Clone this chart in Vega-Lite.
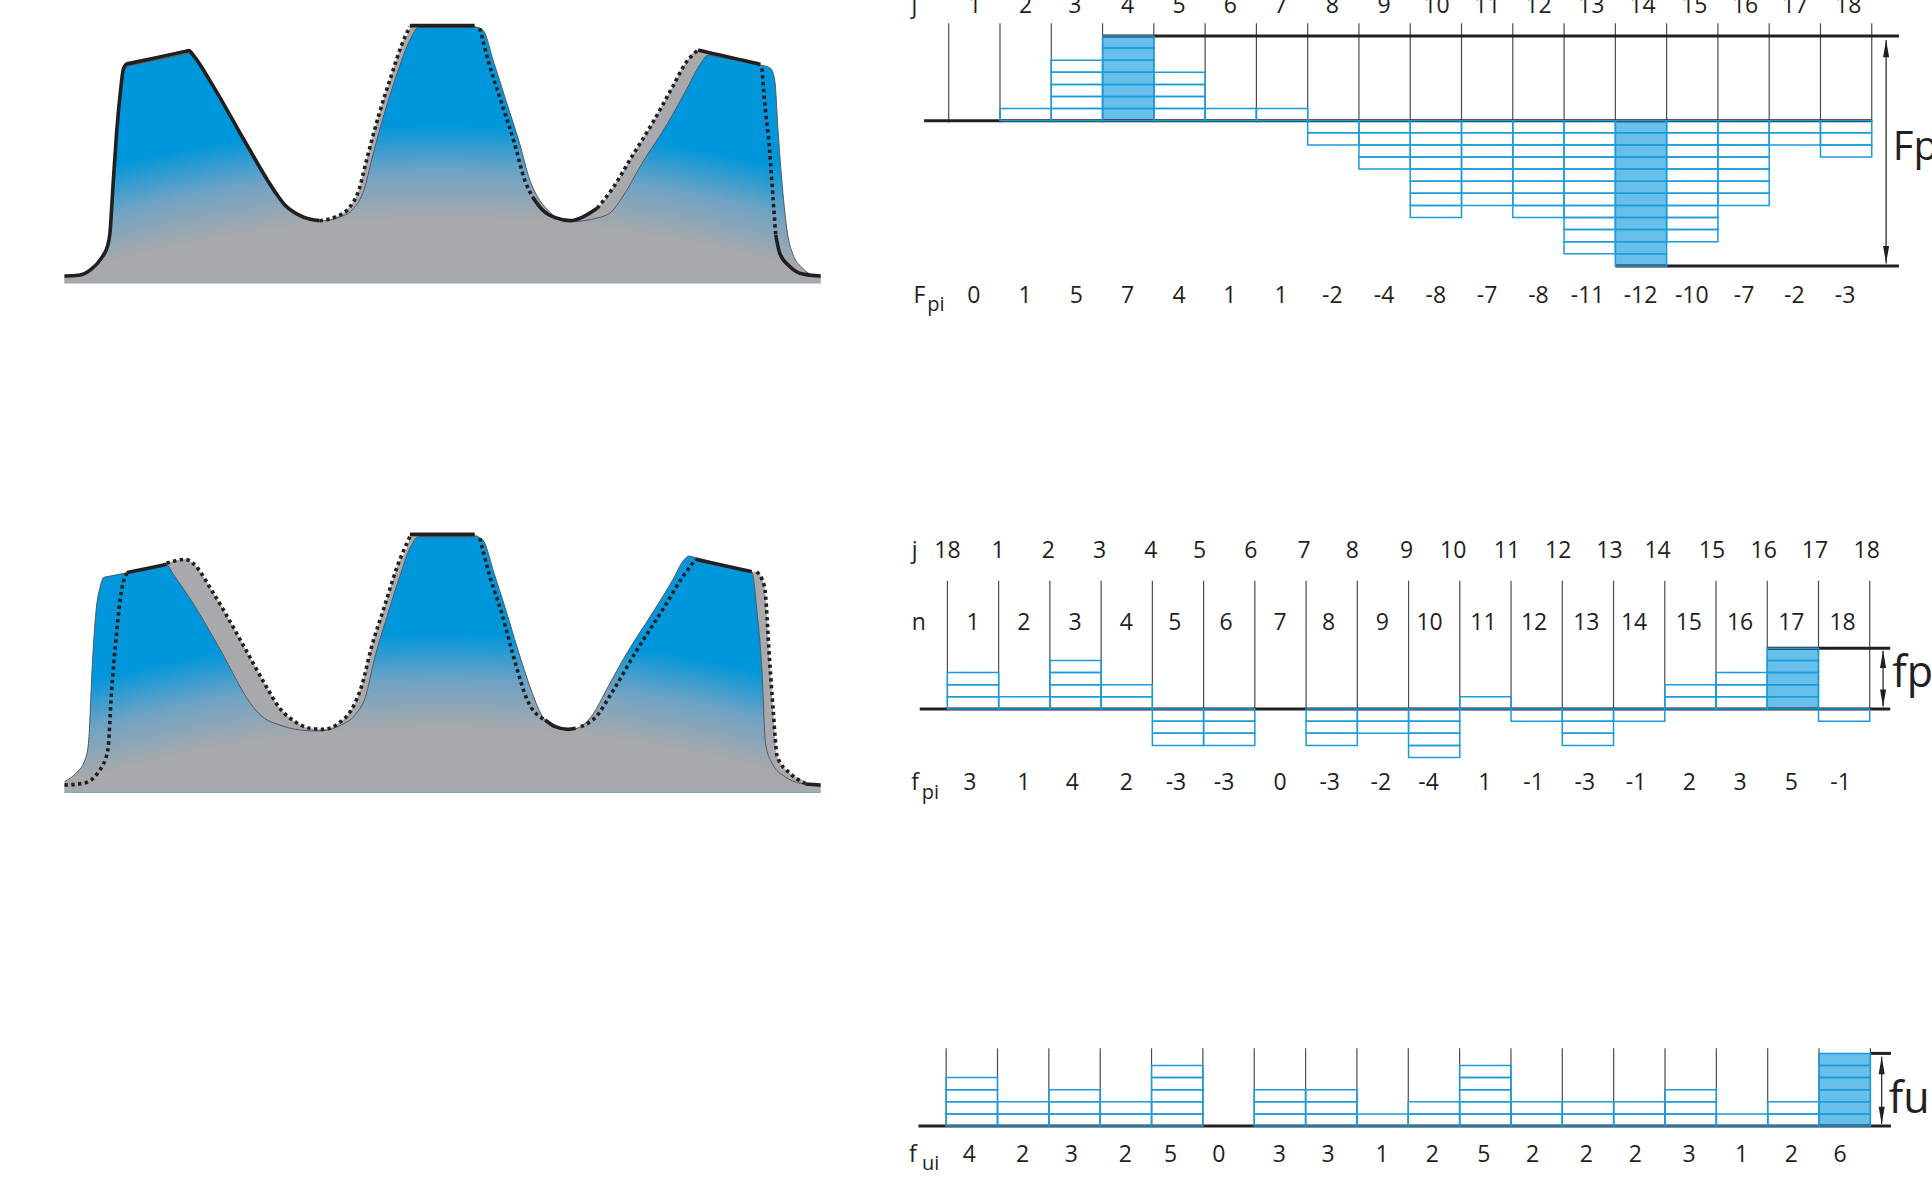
{"$schema":"https://vega.github.io/schema/vega-lite/v6.json","padding":0,"spacing":0,"background":"white",
"config":{"view":{"stroke":null},"concat":{"spacing":0},"text":{"font":"Open Sans","color":"#231f20"}},
"datasets":{
"gear1_actual":[{"x":48,"h":22},{"x":75,"h":24},{"x":100,"h":42},{"x":120,"h":75},{"x":133,"h":115},{"x":137,"h":150},{"x":143,"h":290},{"x":150,"h":450},{"x":158,"h":580},{"x":163,"h":635},{"x":170,"h":652},{"x":178,"h":654.5},{"x":284,"h":687.5},{"x":292,"h":690},{"x":300,"h":680},{"x":340,"h":585},{"x":400,"h":425},{"x":465,"h":260},{"x":480,"h":232},{"x":505,"h":205},{"x":530,"h":192},{"x":548,"h":187},{"x":590,"h":200},{"x":615,"h":225},{"x":635,"h":280},{"x":650,"h":370},{"x":675,"h":510},{"x":700,"h":630},{"x":725,"h":730},{"x":742,"h":768},{"x":855,"h":768},{"x":868,"h":760},{"x":890,"h":660},{"x":915,"h":540},{"x":940,"h":420},{"x":960,"h":310},{"x":975,"h":260},{"x":995,"h":220},{"x":1015,"h":195},{"x":1040,"h":185},{"x":1090,"h":195},{"x":1120,"h":215},{"x":1140,"h":255},{"x":1180,"h":360},{"x":1230,"h":480},{"x":1270,"h":590},{"x":1295,"h":660},{"x":1310,"h":685},{"x":1318,"h":683},{"x":1404,"h":657},{"x":1412,"h":655},{"x":1432,"h":645},{"x":1440,"h":610},{"x":1447,"h":450},{"x":1455,"h":290},{"x":1465,"h":150},{"x":1475,"h":90},{"x":1495,"h":45},{"x":1510,"h":28},{"x":1530,"h":22}],
"gear1_ref":[{"x":48,"h":22,"seg":"A","kind":"solid"},{"x":75,"h":24,"seg":"A","kind":"solid"},{"x":100,"h":42,"seg":"A","kind":"solid"},{"x":120,"h":75,"seg":"A","kind":"solid"},{"x":133,"h":115,"seg":"A","kind":"solid"},{"x":137,"h":150,"seg":"A","kind":"solid"},{"x":143,"h":290,"seg":"A","kind":"solid"},{"x":150,"h":450,"seg":"A","kind":"solid"},{"x":158,"h":580,"seg":"A","kind":"solid"},{"x":163,"h":640,"seg":"A","kind":"solid"},{"x":170,"h":658,"seg":"A","kind":"solid"},{"x":178,"h":660.6,"seg":"A","kind":"solid"},{"x":284,"h":695.4,"seg":"A","kind":"solid"},{"x":292,"h":698,"seg":"A","kind":"solid"},{"x":300,"h":685,"seg":"A","kind":"solid"},{"x":340,"h":590,"seg":"A","kind":"solid"},{"x":400,"h":430,"seg":"A","kind":"solid"},{"x":465,"h":265,"seg":"A","kind":"solid"},{"x":480,"h":235,"seg":"A","kind":"solid"},{"x":505,"h":207,"seg":"A","kind":"solid"},{"x":530,"h":192,"seg":"A","kind":"solid"},{"x":548,"h":188,"seg":"A","kind":"solid"},
{"x":548,"h":188,"seg":"B","kind":"dot"},{"x":580,"h":200,"seg":"B","kind":"dot"},{"x":605,"h":225,"seg":"B","kind":"dot"},{"x":625,"h":280,"seg":"B","kind":"dot"},{"x":640,"h":370,"seg":"B","kind":"dot"},{"x":665,"h":510,"seg":"B","kind":"dot"},{"x":690,"h":630,"seg":"B","kind":"dot"},{"x":710,"h":720,"seg":"B","kind":"dot"},{"x":725,"h":770,"seg":"B","kind":"dot"},
{"x":725,"h":773,"seg":"C","kind":"solid"},{"x":852,"h":773,"seg":"C","kind":"solid"},
{"x":862,"h":765,"seg":"D","kind":"dot"},{"x":880,"h":660,"seg":"D","kind":"dot"},{"x":905,"h":540,"seg":"D","kind":"dot"},{"x":930,"h":420,"seg":"D","kind":"dot"},{"x":950,"h":310,"seg":"D","kind":"dot"},{"x":965,"h":260,"seg":"D","kind":"dot"},
{"x":965,"h":260,"seg":"E","kind":"solid"},{"x":985,"h":220,"seg":"E","kind":"solid"},{"x":1010,"h":197,"seg":"E","kind":"solid"},{"x":1040,"h":188,"seg":"E","kind":"solid"},{"x":1065,"h":200,"seg":"E","kind":"solid"},{"x":1092,"h":225,"seg":"E","kind":"solid"},
{"x":1092,"h":225,"seg":"F","kind":"dot"},{"x":1120,"h":280,"seg":"F","kind":"dot"},{"x":1160,"h":380,"seg":"F","kind":"dot"},{"x":1200,"h":480,"seg":"F","kind":"dot"},{"x":1240,"h":590,"seg":"F","kind":"dot"},{"x":1265,"h":660,"seg":"F","kind":"dot"},{"x":1290,"h":700,"seg":"F","kind":"dot"},
{"x":1290,"h":700,"seg":"G","kind":"solid"},{"x":1298,"h":697,"seg":"G","kind":"solid"},{"x":1404,"h":660,"seg":"G","kind":"solid"},{"x":1412,"h":657,"seg":"G","kind":"solid"},
{"x":1415,"h":645,"seg":"H","kind":"dot"},{"x":1420,"h":550,"seg":"H","kind":"dot"},{"x":1430,"h":400,"seg":"H","kind":"dot"},{"x":1437,"h":250,"seg":"H","kind":"dot"},{"x":1442,"h":145,"seg":"H","kind":"dot"},
{"x":1442,"h":145,"seg":"I","kind":"solid"},{"x":1450,"h":90,"seg":"I","kind":"solid"},{"x":1470,"h":50,"seg":"I","kind":"solid"},{"x":1495,"h":28,"seg":"I","kind":"solid"},{"x":1530,"h":22,"seg":"I","kind":"solid"}],
"gear2_actual":[{"x":48,"h":33},{"x":70,"h":58},{"x":88,"h":98},{"x":95,"h":148},{"x":103,"h":398},{"x":110,"h":548},{"x":118,"h":618},{"x":125,"h":646},{"x":133,"h":648.4},{"x":240,"h":680.6},{"x":248,"h":683},{"x":262,"h":653},{"x":300,"h":568},{"x":350,"h":438},{"x":420,"h":253},{"x":440,"h":223},{"x":470,"h":203},{"x":510,"h":188},{"x":545,"h":185},{"x":590,"h":203},{"x":620,"h":238},{"x":638,"h":288},{"x":655,"h":398},{"x":680,"h":528},{"x":705,"h":648},{"x":725,"h":733},{"x":742,"h":768},{"x":855,"h":768},{"x":868,"h":758},{"x":890,"h":658},{"x":915,"h":538},{"x":945,"h":388},{"x":965,"h":298},{"x":985,"h":228},{"x":1005,"h":203},{"x":1035,"h":188},{"x":1060,"h":198},{"x":1085,"h":238},{"x":1110,"h":308},{"x":1150,"h":418},{"x":1200,"h":538},{"x":1240,"h":638},{"x":1262,"h":698},{"x":1272,"h":710},{"x":1280,"h":707},{"x":1387,"h":666},{"x":1395,"h":663},{"x":1405,"h":548},{"x":1415,"h":368},{"x":1422,"h":148},{"x":1435,"h":88},{"x":1460,"h":48},{"x":1490,"h":28},{"x":1530,"h":20}],
"gear2_ref":[{"x":48,"h":23,"seg":"a","kind":"dot"},{"x":85,"h":28,"seg":"a","kind":"dot"},{"x":115,"h":63,"seg":"a","kind":"dot"},{"x":133,"h":128,"seg":"a","kind":"dot"},{"x":140,"h":298,"seg":"a","kind":"dot"},{"x":150,"h":478,"seg":"a","kind":"dot"},{"x":160,"h":608,"seg":"a","kind":"dot"},{"x":170,"h":658,"seg":"a","kind":"dot"},
{"x":170,"h":660,"seg":"b","kind":"solid"},{"x":178,"h":662.6,"seg":"b","kind":"solid"},{"x":240,"h":682.4,"seg":"b","kind":"solid"},{"x":248,"h":685,"seg":"b","kind":"solid"},
{"x":248,"h":688,"seg":"c","kind":"dot"},{"x":285,"h":700,"seg":"c","kind":"dot"},{"x":300,"h":688,"seg":"c","kind":"dot"},{"x":340,"h":598,"seg":"c","kind":"dot"},{"x":400,"h":438,"seg":"c","kind":"dot"},{"x":440,"h":328,"seg":"c","kind":"dot"},{"x":470,"h":253,"seg":"c","kind":"dot"},{"x":500,"h":213,"seg":"c","kind":"dot"},{"x":530,"h":193,"seg":"c","kind":"dot"},{"x":555,"h":190,"seg":"c","kind":"dot"},{"x":585,"h":208,"seg":"c","kind":"dot"},{"x":610,"h":248,"seg":"c","kind":"dot"},{"x":630,"h":318,"seg":"c","kind":"dot"},{"x":650,"h":438,"seg":"c","kind":"dot"},{"x":675,"h":558,"seg":"c","kind":"dot"},{"x":700,"h":678,"seg":"c","kind":"dot"},{"x":725,"h":768,"seg":"c","kind":"dot"},
{"x":725,"h":775,"seg":"d","kind":"solid"},{"x":852,"h":775,"seg":"d","kind":"solid"},
{"x":862,"h":763,"seg":"e","kind":"dot"},{"x":880,"h":658,"seg":"e","kind":"dot"},{"x":905,"h":538,"seg":"e","kind":"dot"},{"x":930,"h":398,"seg":"e","kind":"dot"},{"x":955,"h":278,"seg":"e","kind":"dot"},{"x":990,"h":218,"seg":"e","kind":"dot"},
{"x":990,"h":218,"seg":"f","kind":"solid"},{"x":1010,"h":198,"seg":"f","kind":"solid"},{"x":1035,"h":190,"seg":"f","kind":"solid"},{"x":1050,"h":193,"seg":"f","kind":"solid"},
{"x":1060,"h":198,"seg":"g","kind":"dot"},{"x":1090,"h":228,"seg":"g","kind":"dot"},{"x":1120,"h":298,"seg":"g","kind":"dot"},{"x":1170,"h":428,"seg":"g","kind":"dot"},{"x":1220,"h":548,"seg":"g","kind":"dot"},{"x":1260,"h":648,"seg":"g","kind":"dot"},{"x":1285,"h":700,"seg":"g","kind":"dot"},
{"x":1285,"h":700,"seg":"h","kind":"solid"},{"x":1293,"h":697.3,"seg":"h","kind":"solid"},{"x":1387,"h":665.7,"seg":"h","kind":"solid"},{"x":1395,"h":663,"seg":"h","kind":"solid"},
{"x":1405,"h":663,"seg":"i","kind":"dot"},{"x":1420,"h":618,"seg":"i","kind":"dot"},{"x":1430,"h":398,"seg":"i","kind":"dot"},{"x":1437,"h":248,"seg":"i","kind":"dot"},{"x":1445,"h":108,"seg":"i","kind":"dot"},{"x":1470,"h":58,"seg":"i","kind":"dot"},{"x":1500,"h":28,"seg":"i","kind":"dot"},
{"x":1500,"h":26,"seg":"j","kind":"solid"},{"x":1530,"h":23,"seg":"j","kind":"solid"}],
"top_cells":[{"x":1,"x2":2,"y":0,"y2":1},{"x":2,"x2":3,"y":0,"y2":1},{"x":2,"x2":3,"y":1,"y2":2},{"x":2,"x2":3,"y":2,"y2":3},{"x":2,"x2":3,"y":3,"y2":4},{"x":2,"x2":3,"y":4,"y2":5},{"x":3,"x2":4,"y":0,"y2":1},{"x":3,"x2":4,"y":1,"y2":2},{"x":3,"x2":4,"y":2,"y2":3},{"x":3,"x2":4,"y":3,"y2":4},{"x":3,"x2":4,"y":4,"y2":5},{"x":3,"x2":4,"y":5,"y2":6},{"x":3,"x2":4,"y":6,"y2":7},{"x":4,"x2":5,"y":0,"y2":1},{"x":4,"x2":5,"y":1,"y2":2},{"x":4,"x2":5,"y":2,"y2":3},{"x":4,"x2":5,"y":3,"y2":4},{"x":5,"x2":6,"y":0,"y2":1},{"x":6,"x2":7,"y":0,"y2":1},
{"x":7,"x2":8,"y":0,"y2":-1},{"x":7,"x2":8,"y":-1,"y2":-2},
{"x":8,"x2":9,"y":0,"y2":-1},{"x":8,"x2":9,"y":-1,"y2":-2},{"x":8,"x2":9,"y":-2,"y2":-3},{"x":8,"x2":9,"y":-3,"y2":-4},
{"x":9,"x2":10,"y":0,"y2":-1},{"x":9,"x2":10,"y":-1,"y2":-2},{"x":9,"x2":10,"y":-2,"y2":-3},{"x":9,"x2":10,"y":-3,"y2":-4},{"x":9,"x2":10,"y":-4,"y2":-5},{"x":9,"x2":10,"y":-5,"y2":-6},{"x":9,"x2":10,"y":-6,"y2":-7},{"x":9,"x2":10,"y":-7,"y2":-8},
{"x":10,"x2":11,"y":0,"y2":-1},{"x":10,"x2":11,"y":-1,"y2":-2},{"x":10,"x2":11,"y":-2,"y2":-3},{"x":10,"x2":11,"y":-3,"y2":-4},{"x":10,"x2":11,"y":-4,"y2":-5},{"x":10,"x2":11,"y":-5,"y2":-6},{"x":10,"x2":11,"y":-6,"y2":-7},
{"x":11,"x2":12,"y":0,"y2":-1},{"x":11,"x2":12,"y":-1,"y2":-2},{"x":11,"x2":12,"y":-2,"y2":-3},{"x":11,"x2":12,"y":-3,"y2":-4},{"x":11,"x2":12,"y":-4,"y2":-5},{"x":11,"x2":12,"y":-5,"y2":-6},{"x":11,"x2":12,"y":-6,"y2":-7},{"x":11,"x2":12,"y":-7,"y2":-8},
{"x":12,"x2":13,"y":0,"y2":-1},{"x":12,"x2":13,"y":-1,"y2":-2},{"x":12,"x2":13,"y":-2,"y2":-3},{"x":12,"x2":13,"y":-3,"y2":-4},{"x":12,"x2":13,"y":-4,"y2":-5},{"x":12,"x2":13,"y":-5,"y2":-6},{"x":12,"x2":13,"y":-6,"y2":-7},{"x":12,"x2":13,"y":-7,"y2":-8},{"x":12,"x2":13,"y":-8,"y2":-9},{"x":12,"x2":13,"y":-9,"y2":-10},{"x":12,"x2":13,"y":-10,"y2":-11},
{"x":13,"x2":14,"y":0,"y2":-1},{"x":13,"x2":14,"y":-1,"y2":-2},{"x":13,"x2":14,"y":-2,"y2":-3},{"x":13,"x2":14,"y":-3,"y2":-4},{"x":13,"x2":14,"y":-4,"y2":-5},{"x":13,"x2":14,"y":-5,"y2":-6},{"x":13,"x2":14,"y":-6,"y2":-7},{"x":13,"x2":14,"y":-7,"y2":-8},{"x":13,"x2":14,"y":-8,"y2":-9},{"x":13,"x2":14,"y":-9,"y2":-10},{"x":13,"x2":14,"y":-10,"y2":-11},{"x":13,"x2":14,"y":-11,"y2":-12},
{"x":14,"x2":15,"y":0,"y2":-1},{"x":14,"x2":15,"y":-1,"y2":-2},{"x":14,"x2":15,"y":-2,"y2":-3},{"x":14,"x2":15,"y":-3,"y2":-4},{"x":14,"x2":15,"y":-4,"y2":-5},{"x":14,"x2":15,"y":-5,"y2":-6},{"x":14,"x2":15,"y":-6,"y2":-7},{"x":14,"x2":15,"y":-7,"y2":-8},{"x":14,"x2":15,"y":-8,"y2":-9},{"x":14,"x2":15,"y":-9,"y2":-10},
{"x":15,"x2":16,"y":0,"y2":-1},{"x":15,"x2":16,"y":-1,"y2":-2},{"x":15,"x2":16,"y":-2,"y2":-3},{"x":15,"x2":16,"y":-3,"y2":-4},{"x":15,"x2":16,"y":-4,"y2":-5},{"x":15,"x2":16,"y":-5,"y2":-6},{"x":15,"x2":16,"y":-6,"y2":-7},
{"x":16,"x2":17,"y":0,"y2":-1},{"x":16,"x2":17,"y":-1,"y2":-2},
{"x":17,"x2":18,"y":0,"y2":-1},{"x":17,"x2":18,"y":-1,"y2":-2},{"x":17,"x2":18,"y":-2,"y2":-3}],
"mid_cells":[{"x":0,"x2":1,"y":0,"y2":1},{"x":0,"x2":1,"y":1,"y2":2},{"x":0,"x2":1,"y":2,"y2":3},{"x":1,"x2":2,"y":0,"y2":1},{"x":2,"x2":3,"y":0,"y2":1},{"x":2,"x2":3,"y":1,"y2":2},{"x":2,"x2":3,"y":2,"y2":3},{"x":2,"x2":3,"y":3,"y2":4},{"x":3,"x2":4,"y":0,"y2":1},{"x":3,"x2":4,"y":1,"y2":2},
{"x":4,"x2":5,"y":0,"y2":-1},{"x":4,"x2":5,"y":-1,"y2":-2},{"x":4,"x2":5,"y":-2,"y2":-3},{"x":5,"x2":6,"y":0,"y2":-1},{"x":5,"x2":6,"y":-1,"y2":-2},{"x":5,"x2":6,"y":-2,"y2":-3},
{"x":7,"x2":8,"y":0,"y2":-1},{"x":7,"x2":8,"y":-1,"y2":-2},{"x":7,"x2":8,"y":-2,"y2":-3},{"x":8,"x2":9,"y":0,"y2":-1},{"x":8,"x2":9,"y":-1,"y2":-2},{"x":9,"x2":10,"y":0,"y2":-1},{"x":9,"x2":10,"y":-1,"y2":-2},{"x":9,"x2":10,"y":-2,"y2":-3},{"x":9,"x2":10,"y":-3,"y2":-4},
{"x":10,"x2":11,"y":0,"y2":1},{"x":11,"x2":12,"y":0,"y2":-1},{"x":12,"x2":13,"y":0,"y2":-1},{"x":12,"x2":13,"y":-1,"y2":-2},{"x":12,"x2":13,"y":-2,"y2":-3},{"x":13,"x2":14,"y":0,"y2":-1},
{"x":14,"x2":15,"y":0,"y2":1},{"x":14,"x2":15,"y":1,"y2":2},{"x":15,"x2":16,"y":0,"y2":1},{"x":15,"x2":16,"y":1,"y2":2},{"x":15,"x2":16,"y":2,"y2":3},{"x":16,"x2":17,"y":0,"y2":1},{"x":16,"x2":17,"y":1,"y2":2},{"x":16,"x2":17,"y":2,"y2":3},{"x":16,"x2":17,"y":3,"y2":4},{"x":16,"x2":17,"y":4,"y2":5},{"x":17,"x2":18,"y":0,"y2":-1}],
"bot_cells":[{"x":0,"x2":1,"y":0,"y2":1},{"x":0,"x2":1,"y":1,"y2":2},{"x":0,"x2":1,"y":2,"y2":3},{"x":0,"x2":1,"y":3,"y2":4},{"x":1,"x2":2,"y":0,"y2":1},{"x":1,"x2":2,"y":1,"y2":2},{"x":2,"x2":3,"y":0,"y2":1},{"x":2,"x2":3,"y":1,"y2":2},{"x":2,"x2":3,"y":2,"y2":3},{"x":3,"x2":4,"y":0,"y2":1},{"x":3,"x2":4,"y":1,"y2":2},{"x":4,"x2":5,"y":0,"y2":1},{"x":4,"x2":5,"y":1,"y2":2},{"x":4,"x2":5,"y":2,"y2":3},{"x":4,"x2":5,"y":3,"y2":4},{"x":4,"x2":5,"y":4,"y2":5},
{"x":6,"x2":7,"y":0,"y2":1},{"x":6,"x2":7,"y":1,"y2":2},{"x":6,"x2":7,"y":2,"y2":3},{"x":7,"x2":8,"y":0,"y2":1},{"x":7,"x2":8,"y":1,"y2":2},{"x":7,"x2":8,"y":2,"y2":3},{"x":8,"x2":9,"y":0,"y2":1},{"x":9,"x2":10,"y":0,"y2":1},{"x":9,"x2":10,"y":1,"y2":2},{"x":10,"x2":11,"y":0,"y2":1},{"x":10,"x2":11,"y":1,"y2":2},{"x":10,"x2":11,"y":2,"y2":3},{"x":10,"x2":11,"y":3,"y2":4},{"x":10,"x2":11,"y":4,"y2":5},{"x":11,"x2":12,"y":0,"y2":1},{"x":11,"x2":12,"y":1,"y2":2},{"x":12,"x2":13,"y":0,"y2":1},{"x":12,"x2":13,"y":1,"y2":2},{"x":13,"x2":14,"y":0,"y2":1},{"x":13,"x2":14,"y":1,"y2":2},{"x":14,"x2":15,"y":0,"y2":1},{"x":14,"x2":15,"y":1,"y2":2},{"x":14,"x2":15,"y":2,"y2":3},{"x":15,"x2":16,"y":0,"y2":1},{"x":16,"x2":17,"y":0,"y2":1},{"x":16,"x2":17,"y":1,"y2":2},{"x":17,"x2":18,"y":0,"y2":1},{"x":17,"x2":18,"y":1,"y2":2},{"x":17,"x2":18,"y":2,"y2":3},{"x":17,"x2":18,"y":3,"y2":4},{"x":17,"x2":18,"y":4,"y2":5},{"x":17,"x2":18,"y":5,"y2":6}],
"top_ticks":[{"x":0,"y":8.05,"y2":-0.15},{"x":1,"y":8.05,"y2":-0.15},{"x":2,"y":8.05,"y2":-0.15},{"x":3,"y":8.05,"y2":-0.15},{"x":4,"y":8.05,"y2":-0.15},{"x":5,"y":8.05,"y2":-0.15},{"x":6,"y":8.05,"y2":-0.15},{"x":7,"y":8.05,"y2":-0.15},{"x":8,"y":8.05,"y2":-0.15},{"x":9,"y":8.05,"y2":-0.15},{"x":10,"y":8.05,"y2":-0.15},{"x":11,"y":8.05,"y2":-0.15},{"x":12,"y":8.05,"y2":-0.15},{"x":13,"y":8.05,"y2":-0.15},{"x":14,"y":8.05,"y2":-0.15},{"x":15,"y":8.05,"y2":-0.15},{"x":16,"y":8.05,"y2":-0.15},{"x":17,"y":8.05,"y2":-0.15},{"x":18,"y":8.05,"y2":-0.15}],
"mid_ticks":[{"x":0,"y":10.58,"y2":0},{"x":1,"y":10.58,"y2":0},{"x":2,"y":10.58,"y2":0},{"x":3,"y":10.58,"y2":0},{"x":4,"y":10.58,"y2":0},{"x":5,"y":10.58,"y2":0},{"x":6,"y":10.58,"y2":0},{"x":7,"y":10.58,"y2":0},{"x":8,"y":10.58,"y2":0},{"x":9,"y":10.58,"y2":0},{"x":10,"y":10.58,"y2":0},{"x":11,"y":10.58,"y2":0},{"x":12,"y":10.58,"y2":0},{"x":13,"y":10.58,"y2":0},{"x":14,"y":10.58,"y2":0},{"x":15,"y":10.58,"y2":0},{"x":16,"y":10.58,"y2":0},{"x":17,"y":10.58,"y2":0},{"x":18,"y":10.58,"y2":0}],
"bot_ticks":[{"x":0,"y":6.42,"y2":0},{"x":1,"y":6.42,"y2":0},{"x":2,"y":6.42,"y2":0},{"x":3,"y":6.42,"y2":0},{"x":4,"y":6.42,"y2":0},{"x":5,"y":6.42,"y2":0},{"x":6,"y":6.42,"y2":0},{"x":7,"y":6.42,"y2":0},{"x":8,"y":6.42,"y2":0},{"x":9,"y":6.42,"y2":0},{"x":10,"y":6.42,"y2":0},{"x":11,"y":6.42,"y2":0},{"x":12,"y":6.42,"y2":0},{"x":13,"y":6.42,"y2":0},{"x":14,"y":6.42,"y2":0},{"x":15,"y":6.42,"y2":0},{"x":16,"y":6.42,"y2":0},{"x":17,"y":6.42,"y2":0},{"x":18,"y":6.42,"y2":0}],
"top_labels":[{"t":"j","x":-0.67,"y":9.5},{"t":"1","x":0.51,"y":9.5},{"t":"2","x":1.5,"y":9.5},{"t":"3","x":2.46,"y":9.5},{"t":"4","x":3.49,"y":9.5},{"t":"5","x":4.49,"y":9.5},{"t":"6","x":5.49,"y":9.5},{"t":"7","x":6.47,"y":9.5},{"t":"8","x":7.48,"y":9.5},{"t":"9","x":8.49,"y":9.5},{"t":"10","x":9.51,"y":9.5},{"t":"11","x":10.5,"y":9.5},{"t":"12","x":11.5,"y":9.5},{"t":"13","x":12.53,"y":9.5},{"t":"14","x":13.53,"y":9.5},{"t":"15","x":14.54,"y":9.5},{"t":"16","x":15.53,"y":9.5},{"t":"17","x":16.5,"y":9.5},{"t":"18","x":17.54,"y":9.5},
{"t":"F","x":-0.57,"y":-14.5},{"t":"0","x":0.49,"y":-14.5},{"t":"1","x":1.49,"y":-14.5},{"t":"5","x":2.49,"y":-14.5},{"t":"7","x":3.49,"y":-14.5},{"t":"4","x":4.49,"y":-14.5},{"t":"1","x":5.48,"y":-14.5},{"t":"1","x":6.48,"y":-14.5},{"t":"-2","x":7.48,"y":-14.5},{"t":"-4","x":8.49,"y":-14.5},{"t":"-8","x":9.5,"y":-14.5},{"t":"-7","x":10.5,"y":-14.5},{"t":"-8","x":11.5,"y":-14.5},{"t":"-11","x":12.46,"y":-14.5},{"t":"-12","x":13.49,"y":-14.5},{"t":"-10","x":14.49,"y":-14.5},{"t":"-7","x":15.51,"y":-14.5},{"t":"-2","x":16.49,"y":-14.5},{"t":"-3","x":17.48,"y":-14.5}],
"mid_labels":[{"t":"j","x":-0.64,"y":13.0},{"t":"18","x":0,"y":13.0},{"t":"1","x":0.99,"y":13.0},{"t":"2","x":1.97,"y":13.0},{"t":"3","x":2.97,"y":13.0},{"t":"4","x":3.97,"y":13.0},{"t":"5","x":4.92,"y":13.0},{"t":"6","x":5.92,"y":13.0},{"t":"7","x":6.96,"y":13.0},{"t":"8","x":7.9,"y":13.0},{"t":"9","x":8.96,"y":13.0},{"t":"10","x":9.87,"y":13.0},{"t":"11","x":10.92,"y":13.0},{"t":"12","x":11.92,"y":13.0},{"t":"13","x":12.92,"y":13.0},{"t":"14","x":13.86,"y":13.0},{"t":"15","x":14.92,"y":13.0},{"t":"16","x":15.93,"y":13.0},{"t":"17","x":16.93,"y":13.0},{"t":"18","x":17.94,"y":13.0},
{"t":"n","x":-0.56,"y":7.1},{"t":"1","x":0.5,"y":7.1},{"t":"2","x":1.49,"y":7.1},{"t":"3","x":2.49,"y":7.1},{"t":"4","x":3.49,"y":7.1},{"t":"5","x":4.44,"y":7.1},{"t":"6","x":5.44,"y":7.1},{"t":"7","x":6.49,"y":7.1},{"t":"8","x":7.44,"y":7.1},{"t":"9","x":8.49,"y":7.1},{"t":"10","x":9.41,"y":7.1},{"t":"11","x":10.46,"y":7.1},{"t":"12","x":11.45,"y":7.1},{"t":"13","x":12.47,"y":7.1},{"t":"14","x":13.4,"y":7.1},{"t":"15","x":14.47,"y":7.1},{"t":"16","x":15.47,"y":7.1},{"t":"17","x":16.47,"y":7.1},{"t":"18","x":17.47,"y":7.1},
{"t":"f","x":-0.63,"y":-6.14},{"t":"3","x":0.44,"y":-6.14},{"t":"1","x":1.49,"y":-6.14},{"t":"4","x":2.44,"y":-6.14},{"t":"2","x":3.49,"y":-6.14},{"t":"-3","x":4.46,"y":-6.14},{"t":"-3","x":5.4,"y":-6.14},{"t":"0","x":6.49,"y":-6.14},{"t":"-3","x":7.46,"y":-6.14},{"t":"-2","x":8.46,"y":-6.14},{"t":"-4","x":9.39,"y":-6.14},{"t":"1","x":10.49,"y":-6.14},{"t":"-1","x":11.44,"y":-6.14},{"t":"-3","x":12.44,"y":-6.14},{"t":"-1","x":13.44,"y":-6.14},{"t":"2","x":14.48,"y":-6.14},{"t":"3","x":15.47,"y":-6.14},{"t":"5","x":16.47,"y":-6.14},{"t":"-1","x":17.43,"y":-6.14}],
"bot_labels":[{"t":"f","x":-0.65,"y":-2.4},{"t":"4","x":0.45,"y":-2.4},{"t":"2","x":1.49,"y":-2.4},{"t":"3","x":2.44,"y":-2.4},{"t":"2","x":3.49,"y":-2.4},{"t":"5","x":4.37,"y":-2.4},{"t":"0","x":5.31,"y":-2.4},{"t":"3","x":6.49,"y":-2.4},{"t":"3","x":7.44,"y":-2.4},{"t":"1","x":8.49,"y":-2.4},{"t":"2","x":9.47,"y":-2.4},{"t":"5","x":10.47,"y":-2.4},{"t":"2","x":11.42,"y":-2.4},{"t":"2","x":12.47,"y":-2.4},{"t":"2","x":13.42,"y":-2.4},{"t":"3","x":14.47,"y":-2.4},{"t":"1","x":15.49,"y":-2.4},{"t":"2","x":16.46,"y":-2.4},{"t":"6","x":17.41,"y":-2.4}]
},
"hconcat":[
{"vconcat":[
{"width":900,"height":500,"encoding":{"x":{"field":"x","type":"quantitative","axis":null,"scale":{"domain":[-78.4,1685.6],"nice":false,"zero":false}},"y":{"field":"h","type":"quantitative","axis":null,"scale":{"domain":[-650,850],"nice":false,"zero":false}}},
"layer":[
{"data":{"name":"gear1_ref"},"mark":{"type":"area","color":"#a7a9ac","interpolate":"monotone"},"encoding":{"y2":{"datum":0}}},
{"data":{"name":"gear1_actual"},"mark":{"type":"area","interpolate":"monotone","color":{"gradient":"radial","x1":0.5,"y1":2.28,"r1":1.697,"x2":0.5,"y2":2.28,"r2":1.821,"stops":[{"offset":0,"color":"#a7a9ac"},{"offset":0.5,"color":"#6fa3c4"},{"offset":1,"color":"#0096db"}]}},"encoding":{"y2":{"datum":0}}},
{"data":{"name":"gear1_actual"},"mark":{"type":"line","color":"#58595b","strokeWidth":1,"interpolate":"monotone"}},
{"data":{"name":"gear1_ref"},"transform":[{"filter":"datum.kind==='dot'"}],"mark":{"type":"line","color":"#231f20","strokeWidth":3.6,"strokeDash":[3.4,3.4],"interpolate":"monotone"},"encoding":{"detail":{"field":"seg"}}},
{"data":{"name":"gear1_ref"},"transform":[{"filter":"datum.kind==='solid'"}],"mark":{"type":"line","color":"#231f20","strokeWidth":3.6,"interpolate":"monotone"},"encoding":{"detail":{"field":"seg"}}}
]},
{"width":900,"height":689,"encoding":{"x":{"field":"x","type":"quantitative","axis":null,"scale":{"domain":[-78.4,1685.6],"nice":false,"zero":false}},"y":{"field":"h","type":"quantitative","axis":null,"scale":{"domain":[-1189,878],"nice":false,"zero":false}}},
"layer":[
{"data":{"name":"gear2_ref"},"mark":{"type":"area","color":"#a7a9ac","interpolate":"monotone"},"encoding":{"y2":{"datum":0}}},
{"data":{"name":"gear2_actual"},"mark":{"type":"area","interpolate":"monotone","color":{"gradient":"radial","x1":0.5,"y1":2.28,"r1":1.697,"x2":0.5,"y2":2.28,"r2":1.821,"stops":[{"offset":0,"color":"#a7a9ac"},{"offset":0.5,"color":"#6fa3c4"},{"offset":1,"color":"#0096db"}]}},"encoding":{"y2":{"datum":0}}},
{"data":{"name":"gear2_actual"},"mark":{"type":"line","color":"#58595b","strokeWidth":1,"interpolate":"monotone"}},
{"data":{"name":"gear2_ref"},"transform":[{"filter":"datum.kind==='dot'"}],"mark":{"type":"line","color":"#231f20","strokeWidth":3.6,"strokeDash":[3.4,3.4],"interpolate":"monotone"},"encoding":{"detail":{"field":"seg"}}},
{"data":{"name":"gear2_ref"},"transform":[{"filter":"datum.kind==='solid'"}],"mark":{"type":"line","color":"#231f20","strokeWidth":3.6,"interpolate":"monotone"},"encoding":{"detail":{"field":"seg"}}}
]}
]},
{"vconcat":[
{"width":1032,"height":400,"encoding":{"x":{"field":"x","type":"quantitative","axis":null,"scale":{"domain":[-0.95,19.175],"nice":false,"zero":false}},"y":{"field":"y","type":"quantitative","axis":null,"scale":{"domain":[-23.08,9.975],"nice":false,"zero":false}}},
"layer":[
{"data":{"values":[{"x":3,"x2":4,"y":0,"y2":7},{"x":13,"x2":14,"y":0,"y2":-12}]},"mark":{"type":"rect","color":"#67bfea"},"encoding":{"x2":{"field":"x2"},"y2":{"field":"y2"}}},
{"data":{"name":"top_ticks"},"mark":{"type":"rule","color":"#4d4d4f","strokeWidth":1.2},"encoding":{"y2":{"field":"y2"}}},
{"data":{"values":[{"x":-0.48,"x2":18,"y":0},{"x":3,"x2":18.53,"y":7},{"x":13,"x2":18.53,"y":-12}]},"mark":{"type":"rule","color":"#231f20","strokeWidth":3},"encoding":{"x2":{"field":"x2"}}},
{"data":{"name":"top_cells"},"mark":{"type":"rect","fill":null,"stroke":"#1a9cdc","strokeWidth":1.5},"encoding":{"x2":{"field":"x2"},"y2":{"field":"y2"}}},
{"data":{"values":[{"x":18.28,"y":6.67,"y2":-11.79}]},"mark":{"type":"rule","color":"#231f20","strokeWidth":1.2},"encoding":{"y2":{"field":"y2"}}},
{"data":{"values":[{"x":18.28,"y":5.95}]},"mark":{"type":"point","shape":"M0,-1L0.35,1L-0.35,1Z","size":300,"filled":true,"opacity":1,"color":"#231f20"}},
{"data":{"values":[{"x":18.28,"y":-11.07}]},"mark":{"type":"point","shape":"M0,1L0.35,-1L-0.35,-1Z","size":300,"filled":true,"opacity":1,"color":"#231f20"}},
{"data":{"name":"top_labels"},"mark":{"type":"text","fontSize":23,"clip":true,"baseline":"middle"},"encoding":{"text":{"field":"t"}}},
{"data":{"values":[{"t":"pi","x":-0.25,"y":-15.25}]},"mark":{"type":"text","fontSize":20,"clip":true,"baseline":"middle"},"encoding":{"text":{"field":"t"}}},
{"data":{"values":[{"t":"Fp","x":18.41,"y":-3.25}]},"mark":{"type":"text","fontSize":40,"clip":true,"align":"left","baseline":"alphabetic"},"encoding":{"text":{"field":"t"}}}
]},
{"width":1032,"height":560,"encoding":{"x":{"field":"x","type":"quantitative","axis":null,"scale":{"domain":[-0.925,19.215],"nice":false,"zero":false}},"y":{"field":"y","type":"quantitative","axis":null,"scale":{"domain":[-20.69,25.47],"nice":false,"zero":false}}},
"layer":[
{"data":{"values":[{"x":16,"x2":17,"y":0,"y2":5}]},"mark":{"type":"rect","color":"#67bfea"},"encoding":{"x2":{"field":"x2"},"y2":{"field":"y2"}}},
{"data":{"name":"mid_ticks"},"mark":{"type":"rule","color":"#4d4d4f","strokeWidth":1.2},"encoding":{"y2":{"field":"y2"}}},
{"data":{"values":[{"x":-0.54,"x2":18.4,"y":0},{"x":16,"x2":18.4,"y":5}]},"mark":{"type":"rule","color":"#231f20","strokeWidth":3},"encoding":{"x2":{"field":"x2"}}},
{"data":{"name":"mid_cells"},"mark":{"type":"rect","fill":null,"stroke":"#1a9cdc","strokeWidth":1.5},"encoding":{"x2":{"field":"x2"},"y2":{"field":"y2"}}},
{"data":{"values":[{"x":18.26,"y":4.81,"y2":0.2}]},"mark":{"type":"rule","color":"#231f20","strokeWidth":1.2},"encoding":{"y2":{"field":"y2"}}},
{"data":{"values":[{"x":18.26,"y":4.1}]},"mark":{"type":"point","shape":"M0,-1L0.35,1L-0.35,1Z","size":300,"filled":true,"opacity":1,"color":"#231f20"}},
{"data":{"values":[{"x":18.26,"y":0.9}]},"mark":{"type":"point","shape":"M0,1L0.35,-1L-0.35,-1Z","size":300,"filled":true,"opacity":1,"color":"#231f20"}},
{"data":{"name":"mid_labels"},"mark":{"type":"text","fontSize":23,"clip":true,"baseline":"middle"},"encoding":{"text":{"field":"t"}}},
{"data":{"values":[{"t":"pi","x":-0.33,"y":-6.95}]},"mark":{"type":"text","fontSize":20,"clip":true,"baseline":"middle"},"encoding":{"text":{"field":"t"}}},
{"data":{"values":[{"t":"fp","x":18.44,"y":1.81}]},"mark":{"type":"text","fontSize":43,"clip":true,"align":"left","baseline":"alphabetic"},"encoding":{"text":{"field":"t"}}}
]},
{"width":1032,"height":229,"encoding":{"x":{"field":"x","type":"quantitative","axis":null,"scale":{"domain":[-0.899,19.2],"nice":false,"zero":false}},"y":{"field":"y","type":"quantitative","axis":null,"scale":{"domain":[-5.207,13.72],"nice":false,"zero":false}}},
"layer":[
{"data":{"values":[{"x":17,"x2":18,"y":0,"y2":6}]},"mark":{"type":"rect","color":"#67bfea"},"encoding":{"x2":{"field":"x2"},"y2":{"field":"y2"}}},
{"data":{"name":"bot_ticks"},"mark":{"type":"rule","color":"#4d4d4f","strokeWidth":1.2},"encoding":{"y2":{"field":"y2"}}},
{"data":{"values":[{"x":-0.54,"x2":18.4,"y":0},{"x":18,"x2":18.4,"y":6}]},"mark":{"type":"rule","color":"#231f20","strokeWidth":3},"encoding":{"x2":{"field":"x2"}}},
{"data":{"name":"bot_cells"},"mark":{"type":"rect","fill":null,"stroke":"#1a9cdc","strokeWidth":1.5},"encoding":{"x2":{"field":"x2"},"y2":{"field":"y2"}}},
{"data":{"values":[{"x":18.22,"y":5.73,"y2":0.17}]},"mark":{"type":"rule","color":"#231f20","strokeWidth":1.2},"encoding":{"y2":{"field":"y2"}}},
{"data":{"values":[{"x":18.22,"y":5.0}]},"mark":{"type":"point","shape":"M0,-1L0.35,1L-0.35,1Z","size":300,"filled":true,"opacity":1,"color":"#231f20"}},
{"data":{"values":[{"x":18.22,"y":0.88}]},"mark":{"type":"point","shape":"M0,1L0.35,-1L-0.35,-1Z","size":300,"filled":true,"opacity":1,"color":"#231f20"}},
{"data":{"name":"bot_labels"},"mark":{"type":"text","fontSize":23,"clip":true,"baseline":"middle"},"encoding":{"text":{"field":"t"}}},
{"data":{"values":[{"t":"ui","x":-0.3,"y":-3.1}]},"mark":{"type":"text","fontSize":20,"clip":true,"baseline":"middle"},"encoding":{"text":{"field":"t"}}},
{"data":{"values":[{"t":"fu","x":18.36,"y":1.07}]},"mark":{"type":"text","fontSize":43,"clip":true,"align":"left","baseline":"alphabetic"},"encoding":{"text":{"field":"t"}}}
]}
]}
]}
